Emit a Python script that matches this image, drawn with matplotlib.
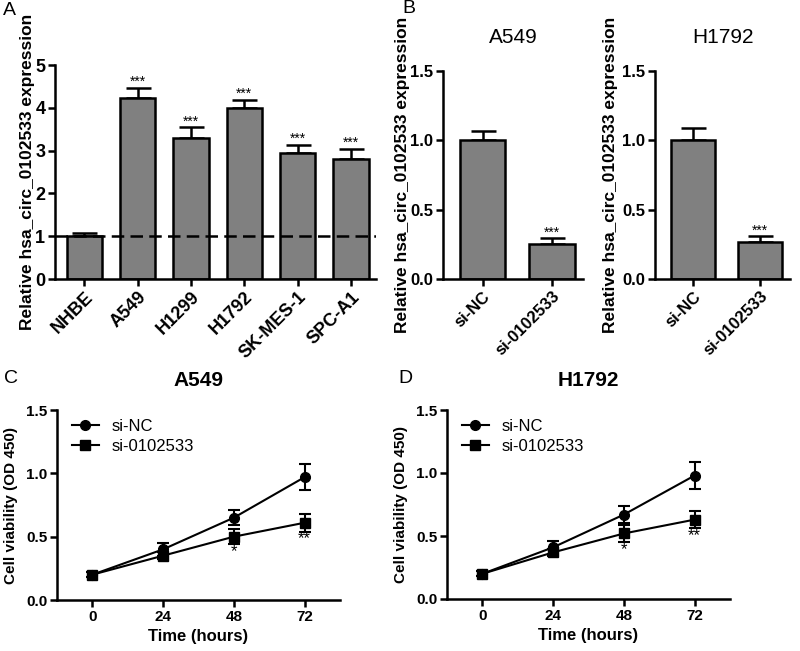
import numpy as np
import matplotlib
matplotlib.use("Agg")
import matplotlib.pyplot as plt

plt.rcParams["font.family"] = ["Liberation Sans", "DejaVu Sans"]

# panel A: expression in cell lines
lines_a = ["NHBE", "A549", "H1299", "H1792", "SK-MES-1", "SPC-A1"]
expr_a = [1.00, 4.23, 3.29, 4.00, 2.95, 2.80]
err_a = [0.07, 0.24, 0.25, 0.18, 0.19, 0.23]
stars_a = ["", "***", "***", "***", "***", "***"]

# panel B: knockdown
groups_b = ["si-NC", "si-0102533"]
expr_b_a549 = [1.00, 0.25]
err_b_a549 = [0.07, 0.045]
expr_b_h1792 = [1.00, 0.27]
err_b_h1792 = [0.09, 0.04]

# panels C/D: CCK-8
hours = [0, 24, 48, 72]
a549_nc = [0.20, 0.40, 0.65, 0.97]
a549_nc_err = [0.02, 0.05, 0.06, 0.10]
a549_si = [0.20, 0.35, 0.50, 0.61]
a549_si_err = [0.02, 0.03, 0.06, 0.07]
h1792_nc = [0.20, 0.41, 0.67, 0.98]
h1792_nc_err = [0.02, 0.05, 0.07, 0.11]
h1792_si = [0.20, 0.37, 0.52, 0.63]
h1792_si_err = [0.02, 0.03, 0.07, 0.07]
stars_cd = ["", "", "*", "**"]

W, H = 800, 651
fig = plt.figure(figsize=(W / 100, H / 100), dpi=100)


def box(l, t, r, b):
    return [l / W, 1 - b / H, (r - l) / W, (b - t) / H]


def style(ax, fs):
    for s in ["top", "right"]:
        ax.spines[s].set_visible(False)
    for s in ["left", "bottom"]:
        ax.spines[s].set_linewidth(1.8)
    ax.tick_params(width=1.8, length=5, labelsize=fs, pad=2)
    for t in ax.get_xticklabels() + ax.get_yticklabels():
        t.set_fontweight("bold")


def bar_panel(ax, cats, vals, errs, xlim, fs):
    x = np.arange(len(cats))
    ax.bar(x, vals, width=0.66, color="#808080", edgecolor="black", linewidth=1.8, zorder=2)
    ax.errorbar(x, vals, yerr=[np.zeros(len(vals)), errs], fmt="none", ecolor="black",
                elinewidth=1.8, capsize=9, capthick=1.8, zorder=1)
    ax.set_xticks(x)
    ax.set_xticklabels(cats, rotation=45, ha="right", rotation_mode="anchor")
    ax.set_xlim(*xlim)


# ---- A
axA = fig.add_axes(box(55, 65, 376, 279))
bar_panel(axA, lines_a, expr_a, err_a, (-0.55, 5.47), 13)
axA.set_ylim(0, 5)
axA.set_yticks([0, 1, 2, 3, 4, 5])
axA.axhline(1, color="black", linestyle=(0, (5, 2.5)), linewidth=1.8, zorder=3)
for i, s in enumerate(stars_a):
    if s:
        axA.text(i, expr_a[i] + err_a[i] - 0.02, s, ha="center", va="bottom", fontsize=10)
axA.set_ylabel("Relative hsa_circ_0102533 expression", fontsize=12.5, fontweight="bold", labelpad=0)
style(axA, 13)

# ---- B
for l, r, vals, errs, title, pad in [(443, 583, expr_b_a549, err_b_a549, "A549", 0),
                                      (655, 790, expr_b_h1792, err_b_h1792, "H1792", 3)]:
    ax = fig.add_axes(box(l, 71, r, 279))
    bar_panel(ax, groups_b, vals, errs, (-0.57, 1.45), 12)
    ax.set_ylim(0, 1.5)
    ax.set_yticks([0, 0.5, 1.0, 1.5])
    ax.set_yticklabels(["0.0", "0.5", "1.0", "1.5"])
    ax.text(1, vals[1] + errs[1] - 0.01, "***", ha="center", va="bottom", fontsize=10)
    ax.set_ylabel("Relative hsa_circ_0102533 expression", fontsize=12.5, fontweight="bold", labelpad=pad)
    ax.set_title(title, fontsize=15, pad=20)
    style(ax, 12)


# ---- C / D
def line_panel(ax, nc, nc_err, si, si_err, title):
    ax.errorbar(hours, nc, yerr=nc_err, fmt="none", ecolor="black",
                capsize=4, capthick=1.5, elinewidth=1.5)
    ax.errorbar(hours, si, yerr=si_err, fmt="none", ecolor="black",
                capsize=4, capthick=1.5, elinewidth=1.5)
    ax.plot(hours, nc, color="black", marker="o", markersize=7, linewidth=1.5, label="si-NC")
    ax.plot(hours, si, color="black", marker="s", markersize=7, linewidth=1.5, label="si-0102533")
    for i, s in enumerate(stars_cd):
        if s:
            ax.text(hours[i], si[i] - si_err[i] + 0.005, s, ha="center", va="top", fontsize=12)
    ax.set_xlim(-12, 84)
    ax.set_xticks(hours)
    ax.set_ylim(0, 1.5)
    ax.set_yticks([0, 0.5, 1.0, 1.5])
    ax.set_yticklabels(["0.0", "0.5", "1.0", "1.5"])
    ax.set_xlabel("Time (hours)", fontsize=12, fontweight="bold", labelpad=4)
    ax.set_ylabel("Cell viability (OD 450)", fontsize=11, fontweight="bold", labelpad=6)
    ax.set_title(title, fontsize=15, fontweight="bold", pad=17)
    ax.legend(loc="upper left", bbox_to_anchor=(0.0, 1.03), frameon=False, fontsize=12,
              handlelength=1.6, handletextpad=0.8, labelspacing=0.3)
    style(ax, 11)


axC = fig.add_axes(box(57, 410, 340, 600))
line_panel(axC, a549_nc, a549_nc_err, a549_si, a549_si_err, "A549")
axD = fig.add_axes(box(447, 410, 730, 599))
line_panel(axD, h1792_nc, h1792_nc_err, h1792_si, h1792_si_err, "H1792")

# panel letters
for lab, x, y in [("A", 3, 2), ("B", 402, 0), ("C", 4, 370), ("D", 398, 370)]:
    fig.text(x / W, 1 - y / H, lab, fontsize=14, va="top", ha="left")

fig.savefig("out.png", dpi=100, facecolor="white")
